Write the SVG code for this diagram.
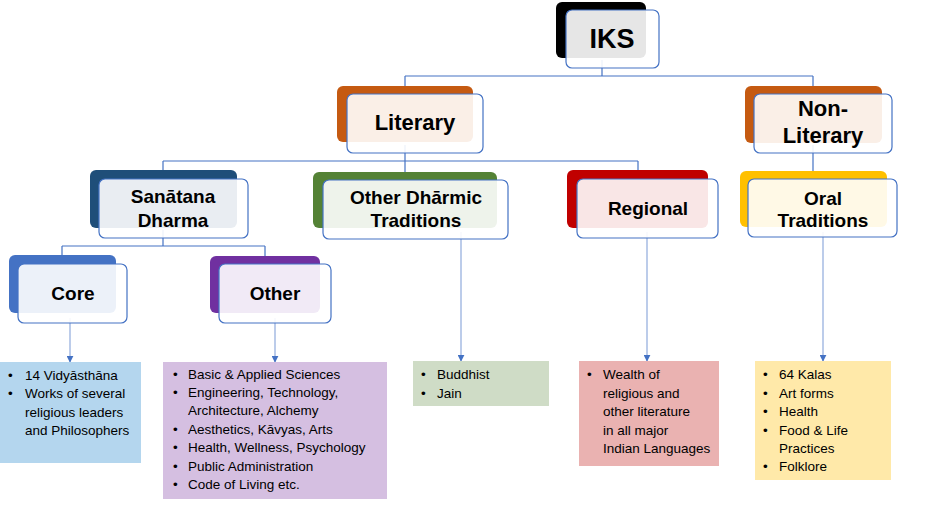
<svg xmlns="http://www.w3.org/2000/svg" width="931" height="506" viewBox="0 0 931 506">
<style>
.front{fill:#ffffff;fill-opacity:0.9;stroke:#4472c4;stroke-width:1.2}
.lbl{font-family:"Liberation Sans",Arial,sans-serif;font-weight:bold;fill:#000;text-anchor:middle}
.txt{font-family:"Liberation Sans",Arial,sans-serif;font-size:13.5px;fill:#000}
.conn{fill:none;stroke:#4472c4;stroke-width:1.2}
.arr{fill:none;stroke:#8faadc;stroke-width:1.2;marker-end:url(#ah)}
</style>
<defs>
<marker id="ah" viewBox="0 0 10 10" refX="9" refY="5" markerWidth="7" markerHeight="7" markerUnits="userSpaceOnUse" orient="auto">
<path d="M0,0 L10,5 L0,10 z" fill="#4472c4"/>
</marker>
</defs>
<rect width="931" height="506" fill="#ffffff"/>
<g id="connectors">
<path class="conn" d="M602,60 V76 M405,76 H813 M405,76 V88 M813,76 V88"/>
<path class="conn" d="M405,145 V161 M163,161 H638 M163,161 V172 M405,161 V174 M638,161 V172"/>
<path class="conn" d="M813,145 V181"/>
<path class="conn" d="M163,230 V246 M62,246 H265 M62,246 V257 M265,246 V258"/>
<path class="arr" d="M70,318 V362"/>
<path class="arr" d="M275,318 V362"/>
<path class="arr" d="M461,232 V361"/>
<path class="arr" d="M647,232 V361"/>
<path class="arr" d="M823,232 V361"/>
</g>
<g id="iks">
<rect x="556" y="2" width="90" height="56" rx="6" fill="#000000"/>
<rect class="front" x="566" y="10" width="93" height="58" rx="6"/>
<text class="lbl" x="612" y="48" font-size="27">IKS</text>
</g>
<g id="literary">
<rect x="337" y="86" width="136" height="56" rx="6" fill="#c55a11"/>
<rect class="front" x="347" y="94" width="136" height="59" rx="6"/>
<text class="lbl" x="415" y="130" font-size="22">Literary</text>
</g>
<g id="non-literary">
<rect x="745" y="86" width="137" height="57" rx="6" fill="#c55a11"/>
<rect class="front" x="754" y="94" width="138" height="59" rx="6"/>
<text class="lbl" x="823" y="116" font-size="22">Non-</text>
<text class="lbl" x="823" y="143" font-size="22">Literary</text>
</g>
<g id="sanatana">
<rect x="90" y="170" width="147" height="58" rx="6" fill="#1f4e79"/>
<rect class="front" x="99" y="179" width="149" height="59" rx="6"/>
<text class="lbl" x="173" y="203" font-size="19">Sanātana</text>
<text class="lbl" x="173" y="227" font-size="19">Dharma</text>
</g>
<g id="other-dharmic">
<rect x="313" y="172" width="184" height="56" rx="6" fill="#548235"/>
<rect class="front" x="323" y="180" width="185" height="59" rx="6"/>
<text class="lbl" x="416" y="204" font-size="19">Other Dhārmic</text>
<text class="lbl" x="416" y="227" font-size="19">Traditions</text>
</g>
<g id="regional">
<rect x="567" y="170" width="141" height="58" rx="6" fill="#c00000"/>
<rect class="front" x="577" y="179" width="141" height="59" rx="6"/>
<text class="lbl" x="648" y="215" font-size="19">Regional</text>
</g>
<g id="oral">
<rect x="740" y="171" width="147" height="56" rx="6" fill="#ffc000"/>
<rect class="front" x="748" y="179" width="149" height="58" rx="6"/>
<text class="lbl" x="823" y="205" font-size="19">Oral</text>
<text class="lbl" x="823" y="227" font-size="19">Traditions</text>
</g>
<g id="core">
<rect x="9" y="255" width="107" height="58" rx="6" fill="#4472c4"/>
<rect class="front" x="18" y="264" width="109" height="59" rx="6"/>
<text class="lbl" x="73" y="300" font-size="19">Core</text>
</g>
<g id="other">
<rect x="210" y="256" width="110" height="57" rx="6" fill="#7030a0"/>
<rect class="front" x="219" y="264" width="112" height="59" rx="6"/>
<text class="lbl" x="275" y="300" font-size="19">Other</text>
</g>
<g id="core-content">
<rect x="0" y="362" width="141" height="101" fill="#b4d6ee"/>
<text class="txt"><tspan x="8" y="380">•</tspan><tspan x="25" y="380">14 Vidyāsthāna</tspan><tspan x="8" y="398">•</tspan><tspan x="25" y="398">Works of several</tspan><tspan x="25" y="417">religious leaders</tspan><tspan x="25" y="435">and Philosophers</tspan></text>
</g>
<g id="other-content">
<rect x="163" y="362" width="224" height="137" fill="#d5bfe1"/>
<text class="txt"><tspan x="173" y="379">•</tspan><tspan x="188" y="379">Basic &amp; Applied Sciences</tspan><tspan x="173" y="397">•</tspan><tspan x="188" y="397">Engineering, Technology,</tspan><tspan x="188" y="415">Architecture, Alchemy</tspan><tspan x="173" y="434">•</tspan><tspan x="188" y="434">Aesthetics, Kāvyas, Arts</tspan><tspan x="173" y="452">•</tspan><tspan x="188" y="452">Health, Wellness, Psychology</tspan><tspan x="173" y="471">•</tspan><tspan x="188" y="471">Public Administration</tspan><tspan x="173" y="489">•</tspan><tspan x="188" y="489">Code of Living etc.</tspan></text>
</g>
<g id="dharmic-content">
<rect x="413" y="361" width="136" height="45" fill="#cfdcc6"/>
<text class="txt"><tspan x="421" y="379">•</tspan><tspan x="437" y="379">Buddhist</tspan><tspan x="421" y="398">•</tspan><tspan x="437" y="398">Jain</tspan></text>
</g>
<g id="regional-content">
<rect x="579" y="361" width="140" height="105" fill="#eab2b1"/>
<text class="txt"><tspan x="587" y="379">•</tspan><tspan x="603" y="379">Wealth of</tspan><tspan x="603" y="398">religious and</tspan><tspan x="603" y="416">other literature</tspan><tspan x="603" y="435">in all major</tspan><tspan x="603" y="453">Indian Languages</tspan></text>
</g>
<g id="oral-content">
<rect x="755" y="361" width="136" height="119" fill="#ffe9a9"/>
<text class="txt"><tspan x="763" y="379">•</tspan><tspan x="779" y="379">64 Kalas</tspan><tspan x="763" y="398">•</tspan><tspan x="779" y="398">Art forms</tspan><tspan x="763" y="416">•</tspan><tspan x="779" y="416">Health</tspan><tspan x="763" y="435">•</tspan><tspan x="779" y="435">Food &amp; Life</tspan><tspan x="779" y="453">Practices</tspan><tspan x="763" y="471">•</tspan><tspan x="779" y="471">Folklore</tspan></text>
</g>
</svg>
